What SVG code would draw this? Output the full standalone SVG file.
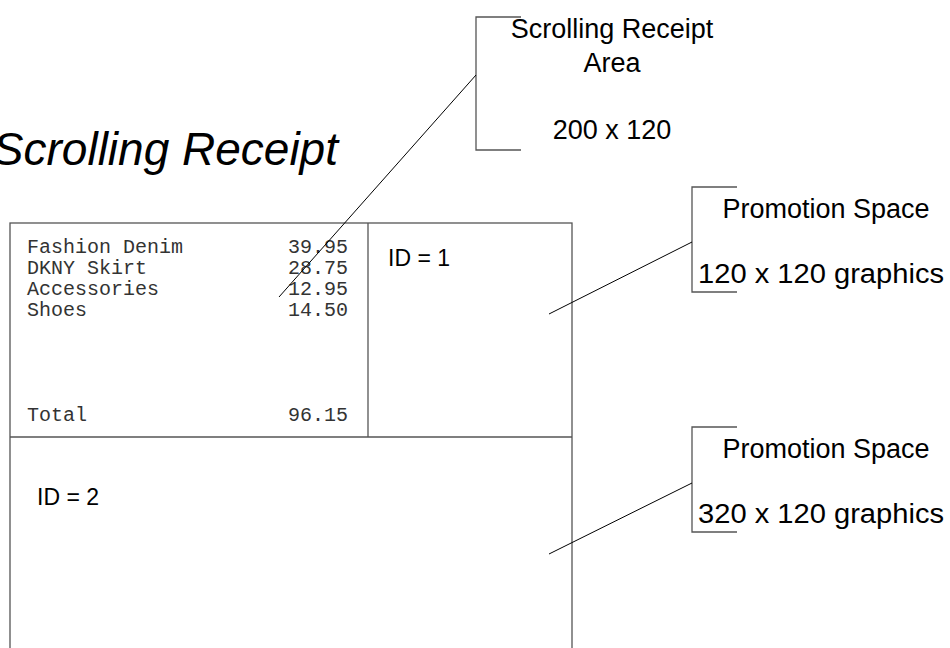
<svg xmlns="http://www.w3.org/2000/svg" width="950" height="648" viewBox="0 0 950 648">
<style>
.lbl{font-family:"Liberation Sans",Arial,sans-serif;font-size:27px;fill:#000}
.mono{font-family:"Liberation Mono","Courier New",monospace;font-size:20px;fill:#333}
.box{fill:none;stroke:#555;stroke-width:1.3}
.br{fill:none;stroke:#555;stroke-width:1.3}
.lead{stroke:#000;stroke-width:1;fill:none}
</style>
<rect width="950" height="648" fill="#fff"/>
<text id="title" x="338" y="165" text-anchor="end" style="font-family:'Liberation Sans',Arial,sans-serif;font-size:46px;font-style:italic" fill="#000">Scrolling Receipt</text>
<g id="layout">
<rect class="box" x="10" y="223" width="562" height="440"/>
<line class="box" x1="10" y1="437" x2="572" y2="437"/>
<line class="box" x1="368" y1="223" x2="368" y2="437"/>
</g>
<g id="receipt">
<text class="mono" x="27" y="253">Fashion Denim</text>
<text class="mono" x="27" y="274">DKNY Skirt</text>
<text class="mono" x="27" y="295">Accessories</text>
<text class="mono" x="27" y="316">Shoes</text>
<text class="mono" x="27" y="421">Total</text>
<g text-anchor="end">
<text class="mono" x="348" y="253">39.95</text>
<text class="mono" x="348" y="274">28.75</text>
<text class="mono" x="348" y="295">12.95</text>
<text class="mono" x="348" y="316">14.50</text>
<text class="mono" x="348" y="421">96.15</text>
</g>
</g>
<g id="promo1"><text class="lbl" x="388" y="266" style="font-size:23px">ID = 1</text></g>
<g id="promo2"><text class="lbl" x="37" y="505" style="font-size:23px">ID = 2</text></g>
<g id="callout-receipt">
<polyline class="br" points="521,17 476,17 476,150 521,150"/>
<text class="lbl" x="612" y="38" text-anchor="middle">Scrolling Receipt</text>
<text class="lbl" x="612" y="72" text-anchor="middle">Area</text>
<text class="lbl" x="612" y="139" text-anchor="middle">200 x 120</text>
</g>
<g id="callout-promo1">
<polyline class="br" points="737,187 692,187 692,292 737,292"/>
<text class="lbl" x="826" y="218" text-anchor="middle">Promotion Space</text>
<text class="lbl" x="698" y="283" textLength="246" lengthAdjust="spacingAndGlyphs">120 x 120 graphics</text>
</g>
<g id="callout-promo2">
<polyline class="br" points="737,427 692,427 692,532 737,532"/>
<text class="lbl" x="826" y="458" text-anchor="middle">Promotion Space</text>
<text class="lbl" x="698" y="523" textLength="246" lengthAdjust="spacingAndGlyphs">320 x 120 graphics</text>
</g>
<g id="connectors">
<line class="lead" x1="279" y1="297" x2="476" y2="75"/>
<line class="lead" x1="549" y1="314" x2="692" y2="242"/>
<line class="lead" x1="549" y1="554" x2="692" y2="483"/>
</g>
</svg>
